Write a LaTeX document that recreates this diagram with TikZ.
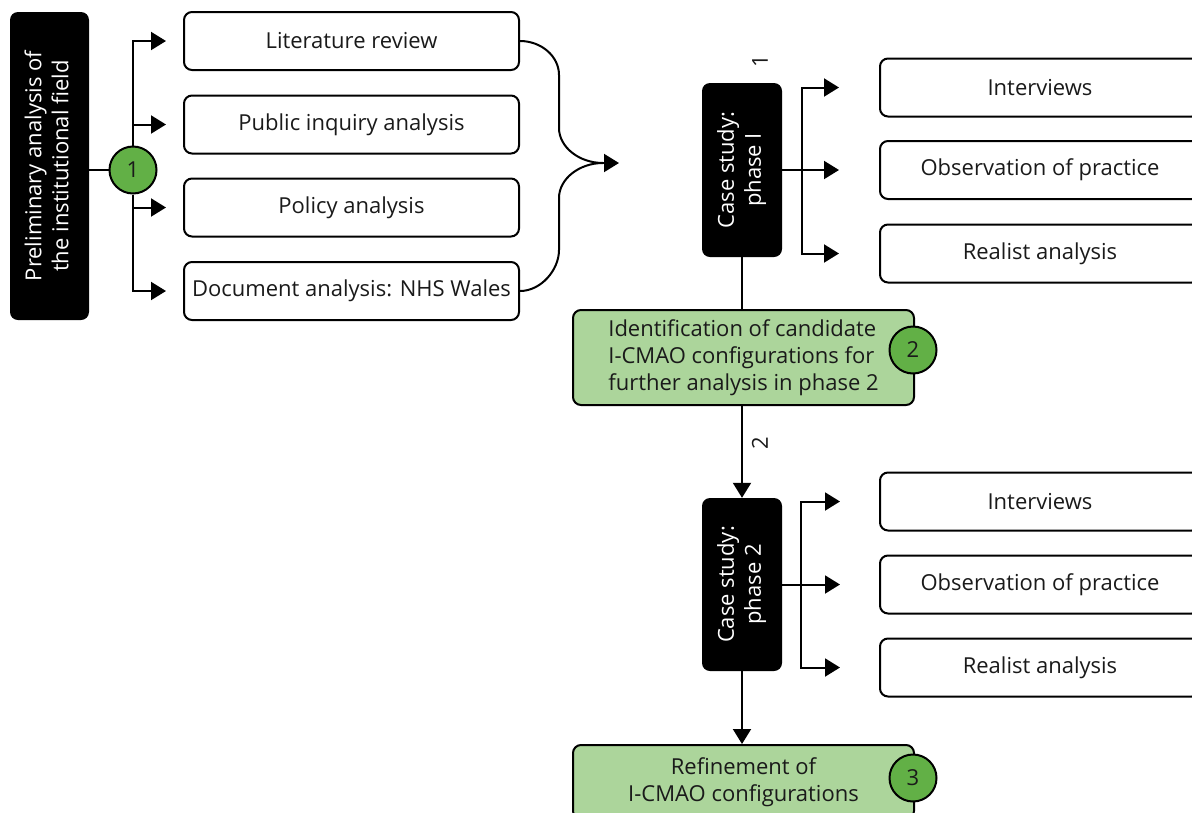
\documentclass[tikz,border=0pt]{standalone}
\usepackage{fontspec}
\setmainfont{Open Sans}
\usetikzlibrary{arrows.meta}
\definecolor{lgreen}{HTML}{ACD59B}
\definecolor{dgreen}{HTML}{62B046}
\definecolor{ink}{HTML}{1A1A1A}
\begin{document}
\begin{tikzpicture}[x=1pt,y=-1pt,
  every node/.style={font=\fontsize{22}{27}\selectfont, inner sep=0pt, text=ink},
  line/.style={line width=2pt, draw=black},
  arr/.style={line width=2pt, draw=black, -{Triangle[length=15pt,width=18pt]}},
  wbox/.style={draw=black, line width=2pt, rounded corners=8pt, fill=white, minimum height=58pt},
  bbox/.style={fill=black, rounded corners=8pt, text=white, minimum width=80pt},
  gbox/.style={draw=black, line width=2pt, rounded corners=8pt, fill=lgreen, minimum width=341pt},
  num/.style={circle, draw=black, line width=2pt, fill=dgreen, minimum size=47pt},
  lab/.style={rotate=90}
]
\useasboundingbox (0,0) rectangle (1192,812);

% left part
\node[bbox, minimum width=79pt, minimum height=308pt] (prelim) at (49.5,166)
  {\rotatebox{90}{\begin{tabular}{@{}c@{}}Preliminary analysis of\\the institutional field\end{tabular}}};
\node[num] (c1) at (133,170) {1};

\node[wbox, minimum width=335pt] (lit) at (351.5,41) {Literature review};
\node[wbox, minimum width=335pt] (pub) at (351.5,124.5) {Public inquiry analysis};
\node[wbox, minimum width=335pt] (pol) at (351.5,207.5) {Policy analysis};
\node[wbox, minimum width=335pt] (doc) at (351.5,291) {Document analysis: NHS Wales};

\draw[line] (prelim.east |- c1) -- (c1.west);
\draw[arr, shorten >=17pt] (c1.north) |- (lit.west);
\draw[arr, shorten >=17pt] (c1.north) |- (pub.west);
\draw[arr, shorten >=17pt] (c1.south) |- (pol.west);
\draw[arr, shorten >=17pt] (c1.south) |- (doc.west);

% brace
\coordinate (bt) at (603,163);
\coordinate (btip) at (619,163);
\draw[line] (lit.east) .. controls (541,41) and (559,56) .. (559,75) -- (559,128)
  .. controls (559,147) and (579,163) .. (bt);
\draw[line] (doc.east) .. controls (541,291) and (559,270) .. (559,250) -- (559,198)
  .. controls (559,179) and (579,163) .. (bt);
\draw[arr] (bt) -- (btip);

% case study phase I
\node[bbox, minimum height=174pt] (cs1) at (742,170)
  {\rotatebox{90}{\begin{tabular}{@{}c@{}}Case study:\\phase I\end{tabular}}};
\node[lab] (l1) at (760,61) {1};

\node[wbox, minimum width=320pt] (int1) at (1040,87.5) {Interviews};
\node[wbox, minimum width=320pt] (obs1) at (1040,170) {Observation of practice};
\node[wbox, minimum width=320pt] (real1) at (1040,253.5) {Realist analysis};

\coordinate (j1) at (802,170);
\draw[arr, shorten >=40pt] (cs1.east) -- (obs1.west);
\draw[arr, shorten >=40pt] (j1) |- (int1.west);
\draw[arr, shorten >=40pt] (j1) |- (real1.west);

% identification
\node[gbox, minimum height=95pt, align=left] (g2) at (743.5,357.5)
  {Identification of candidate\\I-CMAO configurations for\\further analysis in phase 2};
\node[num] (c2) at (913,350) {2};
\draw[line] (cs1.south) -- (cs1.south |- g2.north);

% case study phase 2
\node[bbox, minimum height=173pt] (cs2) at (742,584.5)
  {\rotatebox{90}{\begin{tabular}{@{}c@{}}Case study:\\phase 2\end{tabular}}};
\draw[arr] (cs2.north |- g2.south) -- (cs2.north);
\node[lab] (l2) at (760,443) {2};

\node[wbox, minimum width=320pt] (int2) at (1040,501.5) {Interviews};
\node[wbox, minimum width=320pt] (obs2) at (1040,584.5) {Observation of practice};
\node[wbox, minimum width=320pt] (real2) at (1040,667.5) {Realist analysis};

\coordinate (j2) at (801,584.5);
\draw[arr, shorten >=39pt] (cs2.east) -- (obs2.west);
\draw[arr, shorten >=39pt] (j2) |- (int2.west);
\draw[arr, shorten >=39pt] (j2) |- (real2.west);

% refinement
\node[gbox, minimum height=74pt, align=center] (g3) at (743.5,782)
  {Refinement of\\I-CMAO configurations};
\node[num] (c3) at (913,778) {3};
\draw[arr] (cs2.south) -- (cs2.south |- g3.north);
\end{tikzpicture}
\end{document}
